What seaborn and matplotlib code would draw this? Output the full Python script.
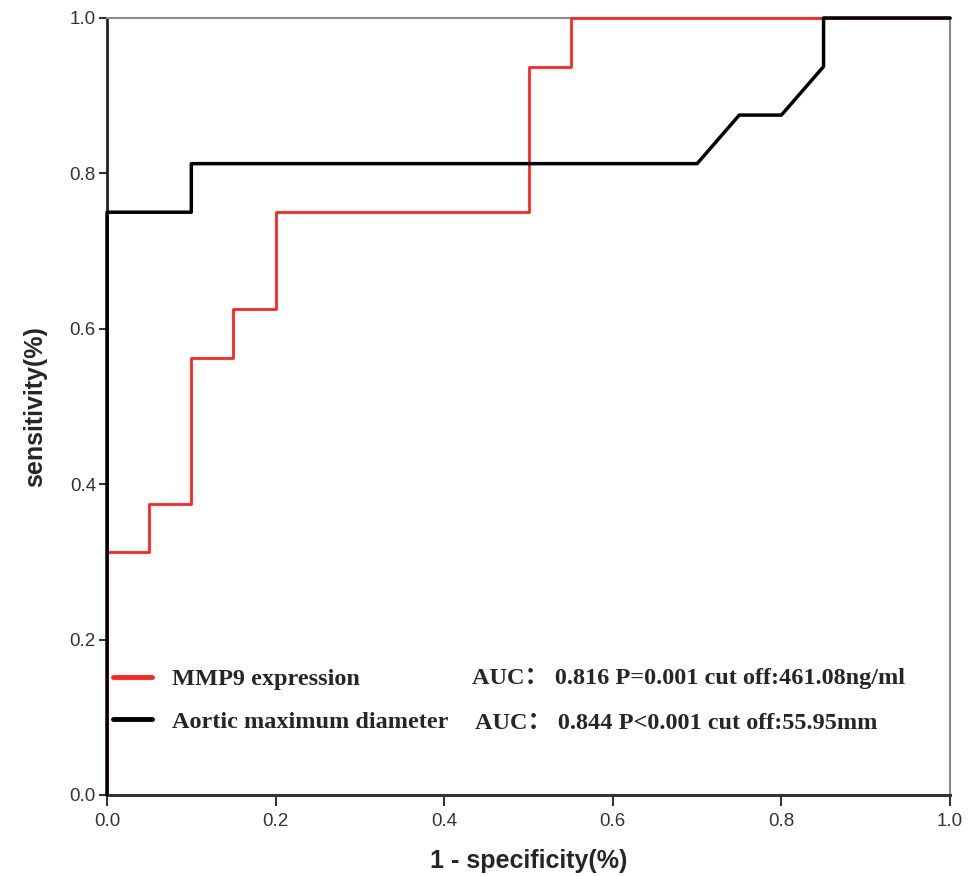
import pandas as pd
import matplotlib.pyplot as plt
import seaborn as sns
from matplotlib.lines import Line2D

# ROC curve points
mmp9_fpr = [0.0, 0.0, 0.05, 0.05, 0.1, 0.1, 0.15, 0.15, 0.2, 0.2, 0.5, 0.5, 0.55, 0.55, 1.0]
mmp9_tpr = [0.0, 0.3125, 0.3125, 0.375, 0.375, 0.5625, 0.5625, 0.625, 0.625, 0.75, 0.75, 0.9375, 0.9375, 1.0, 1.0]

diam_fpr = [0.0, 0.0, 0.1, 0.1, 0.7, 0.75, 0.8, 0.85, 0.85, 1.0]
diam_tpr = [0.0, 0.75, 0.75, 0.8125, 0.8125, 0.875, 0.875, 0.9375, 1.0, 1.0]

series_names = ['MMP9 expression', 'Aortic maximum diameter']
auc_texts = ['AUC\uff1a 0.816 P=0.001 cut off:461.08ng/ml',
             'AUC\uff1a 0.844 P<0.001 cut off:55.95mm']
x_ticks = [0.0, 0.2, 0.4, 0.6, 0.8, 1.0]
y_ticks = [0.0, 0.2, 0.4, 0.6, 0.8, 1.0]

df = pd.concat([
    pd.DataFrame({'fpr': mmp9_fpr, 'tpr': mmp9_tpr, 'marker': series_names[0]}),
    pd.DataFrame({'fpr': diam_fpr, 'tpr': diam_tpr, 'marker': series_names[1]}),
])

sns.set_style('white')
plt.rcParams['font.family'] = ['Liberation Sans', 'DejaVu Sans']

fig = plt.figure(figsize=(9.79, 8.76), dpi=100)
ax = fig.add_axes([0.1093, 0.0925, 0.8611, 0.887])

colors = {series_names[0]: '#ff2424', series_names[1]: 'black'}
widths = {series_names[0]: 2.0, series_names[1]: 2.5}
# red first, black on top (as in the reference)
for name in series_names:
    sub = df[df['marker'] == name]
    sns.lineplot(data=sub, x='fpr', y='tpr', sort=False, estimator=None,
                 color=colors[name], linewidth=widths[name], ax=ax,
                 clip_on=False, zorder=3)

ax.set_xlim(0, 1)
ax.set_ylim(0, 1)
ax.set_xticks(x_ticks)
ax.set_yticks(y_ticks)
ax.set_xticklabels([f'{t:.1f}' for t in x_ticks])
ax.set_yticklabels([f'{t:.1f}' for t in y_ticks])
ax.tick_params(axis='x', bottom=True, direction='out', length=8, width=1.5,
               color='#333333', labelsize=13.5, labelcolor='#333333', pad=5)
ax.tick_params(axis='y', left=True, direction='out', length=6, width=1.5,
               color='#333333', labelsize=13.5, labelcolor='#333333', pad=2)

for side in ['top', 'right']:
    ax.spines[side].set_color('#8a8a8a')
    ax.spines[side].set_linewidth(1.5)
ax.spines['left'].set_color('#222222')
ax.spines['left'].set_linewidth(2.0)
ax.spines['bottom'].set_color('#333333')
ax.spines['bottom'].set_linewidth(2.2)

ax.set_xlabel('1 - specificity(%)', fontsize=18, fontweight='bold', labelpad=14)
ax.set_ylabel('sensitivity(%)', fontsize=18, fontweight='bold', labelpad=16)

handles = [Line2D([], [], color=colors[n], linewidth=3.5) for n in series_names]
leg = ax.legend(handles, series_names, loc='lower left',
                bbox_to_anchor=(0.0, 0.072), frameon=False,
                prop={'family': ['Liberation Serif', 'DejaVu Serif'],
                      'weight': 'bold', 'size': 17.5},
                handlelength=1.6, handletextpad=0.82, labelspacing=0.85,
                borderaxespad=0.0, borderpad=0.25)

auc_font = ['Liberation Serif', 'Noto Sans CJK SC', 'DejaVu Serif']
ax.text(0.4325, 0.1495, auc_texts[0], transform=ax.transAxes, fontsize=17.5,
        fontweight='bold', family=auc_font, va='center', ha='left')
ax.text(0.4365, 0.0925, auc_texts[1], transform=ax.transAxes, fontsize=17.5,
        fontweight='bold', family=auc_font, va='center', ha='left')

fig.savefig('out.png', dpi=100)
